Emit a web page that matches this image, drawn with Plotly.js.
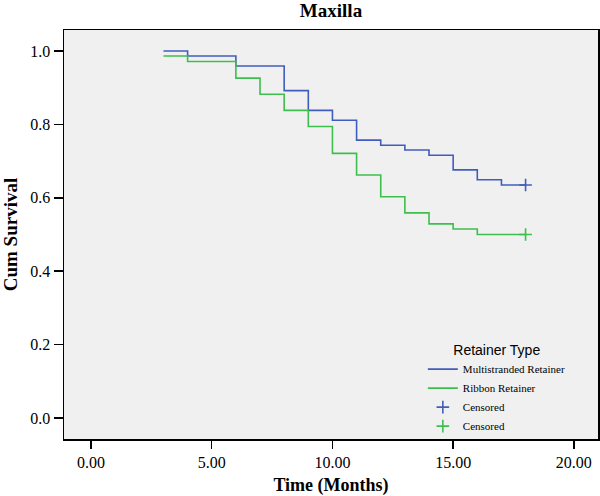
<!DOCTYPE html>
<html>
<head>
<meta charset="utf-8">
<script src="https://cdn.plot.ly/plotly-3.0.1.min.js"></script>
<style>html,body{margin:0;padding:0;background:#fff;}#chart{width:600px;height:496px;}</style>
</head>
<body>
<div id="chart"></div>
<script>
// Kaplan-Meier estimates
const timesMulti = [3, 4, 6, 8, 9, 10, 11, 12, 13, 14, 15, 16, 17, 18];
const survMulti  = [1.000, 0.986, 0.959, 0.892, 0.838, 0.811, 0.757, 0.743, 0.730, 0.716, 0.676, 0.649, 0.635, 0.635];
const timesRibbon = [3, 4, 6, 7, 8, 9, 10, 11, 12, 13, 14, 15, 16, 18];
const survRibbon  = [0.986, 0.971, 0.926, 0.882, 0.838, 0.794, 0.721, 0.662, 0.603, 0.559, 0.529, 0.515, 0.500, 0.500];
const censorTimeMulti = [18];
const censorSurvMulti = [0.635];
const censorTimeRibbon = [18];
const censorSurvRibbon = [0.500];
const seriesNames = ['Multistranded Retainer', 'Ribbon Retainer', 'Censored', 'Censored'];
const xTickVals = [0, 5, 10, 15, 20];
const xTickText = ['0.00', '5.00', '10.00', '15.00', '20.00'];
const yTickVals = [0, 0.2, 0.4, 0.6, 0.8, 1.0];
const yTickText = ['0.0', '0.2', '0.4', '0.6', '0.8', '1.0'];

const blue = '#405dbd';
const green = '#3cbf4c';
const serif = 'Liberation Serif, Times New Roman, serif';

const traces = [
  {x: timesMulti, y: survMulti, name: seriesNames[0], mode: 'lines', line: {shape: 'hv', color: blue, width: 1.6}},
  {x: timesRibbon, y: survRibbon, name: seriesNames[1], mode: 'lines', line: {shape: 'hv', color: green, width: 1.6}},
  {x: censorTimeMulti, y: censorSurvMulti, name: seriesNames[2], mode: 'markers',
   marker: {symbol: 'cross-thin-open', size: 9, line: {color: blue, width: 1.6}, color: blue}},
  {x: censorTimeRibbon, y: censorSurvRibbon, name: seriesNames[3], mode: 'markers',
   marker: {symbol: 'cross-thin-open', size: 9, line: {color: green, width: 1.6}, color: green}}
];

const layout = {
  width: 600, height: 496,
  margin: {l: 64, r: 2, t: 30, b: 57},
  paper_bgcolor: '#ffffff',
  plot_bgcolor: '#f0f0f0',
  font: {family: serif, color: '#000', size: 16},
  title: {text: '<b>Maxilla</b>', font: {family: serif, size: 19, color: '#000'},
          xref: 'paper', x: 0.5, xanchor: 'center', yref: 'container', y: 0.979, yanchor: 'middle'},
  showlegend: true,
  legend: {
    x: 0.672, xanchor: 'left', y: -0.006, yanchor: 'bottom',
    bgcolor: 'rgba(0,0,0,0)', borderwidth: 0,
    font: {family: serif, size: 11, color: '#000'},
    tracegroupgap: 0,
    title: {text: 'Retainer Type', side: 'top center', font: {family: 'Liberation Sans, Arial, sans-serif', size: 14, color: '#000'}}
  },
  xaxis: {
    range: [-1.12, 21.0],
    tickvals: xTickVals, ticktext: xTickText,
    ticks: 'outside', ticklen: 8, tickwidth: 1.5, tickcolor: '#000',
    showline: true, linecolor: '#000', linewidth: 1.5, mirror: true,
    showgrid: false, zeroline: false,
    tickfont: {family: serif, size: 16},
    title: {text: '<b>Time (Months)</b>', font: {family: serif, size: 18}, standoff: 10}
  },
  yaxis: {
    range: [-0.057, 1.057],
    tickvals: yTickVals, ticktext: yTickText,
    ticks: 'outside', ticklen: 9, tickwidth: 1.5, tickcolor: '#000',
    showline: true, linecolor: '#000', linewidth: 1.5, mirror: true,
    showgrid: false, zeroline: false,
    tickfont: {family: serif, size: 16},
    title: {text: '<b>Cum Survival</b>', font: {family: serif, size: 19}, standoff: 8}
  }
};

Plotly.newPlot('chart', traces, layout, {displayModeBar: false, staticPlot: true});
</script>
</body>
</html>
